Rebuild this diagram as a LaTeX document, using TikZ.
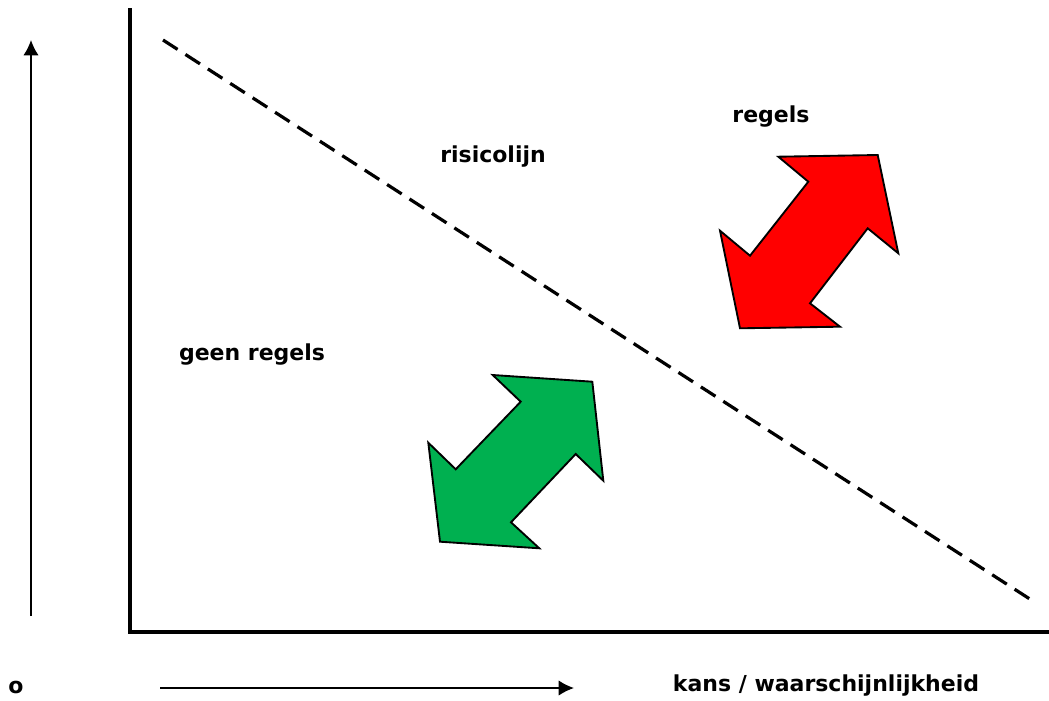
\documentclass[tikz,border=0pt]{standalone}
\usepackage{fontspec}
\setmainfont{DejaVu Sans}
\usepackage{tikz}
\usetikzlibrary{arrows.meta}
\usetikzlibrary{positioning}
\tikzstyle{tekst} = [
	font=\bfseries\fontsize{16.5}{18}\selectfont,
	inner sep=0pt
]
\tikzstyle{as} = [line width=3.4pt]
\tikzstyle{schaal} = [line width=1.2pt, -{Latex[length=11.5pt,width=11.5pt]}]
\tikzstyle{risico} = [line width=2.4pt, dash pattern=on 13pt off 7pt]
\tikzstyle{grotepijl} = [draw=black, line width=1.4pt, line join=miter]
\definecolor{rood}{RGB}{255,0,0}
\definecolor{groen}{RGB}{0,176,80}

\begin{document}
\begin{tikzpicture}[x=0.75pt, y=-0.75pt]
	\useasboundingbox (0,0) rectangle (1049,700);
	% assen
	\coordinate (top) at (130,8);
	\coordinate (origin) at (130,632);
	\coordinate (right) at (1049,632);
	\draw[as] (top) -- (origin) -- (right);
	
	% schaalpijlen
	\coordinate (up0) at (31,616);
	\coordinate (up1) at (31,40);
	\draw[schaal] (up0) -- (up1);
	\node[tekst, name=nul] at (16,687) {o};
	\coordinate (right0) at (160,688);
	\coordinate (right1) at (574,688);
	\draw[schaal] (right0) -- (right1);
	\node[tekst, name=kans] at (826,686) {kans / waarschijnlijkheid};
	
	% risicolijn
	\coordinate (lijn0) at (163,40);
	\coordinate (lijn1) at (1036,603);
	\draw[risico] (lijn0) -- (lijn1);
	\node[tekst, name=risicotekst] at (493,157) {risicolijn};
	\node[tekst, name=regels] at (771,117) {regels};
	\node[tekst, name=geen] at (252,355) {geen regels};
	
	% dubbele pijlen
	\filldraw[grotepijl, fill=rood] (778.3,156.7) -- (877.7,155) -- (898.3,253.3) -- (867.7,228.3)
		-- (810,303.3) -- (840,326.7) -- (740,328.3) -- (720,230.7) -- (750,255.7) -- (808.3,181.7) -- cycle;
	\filldraw[grotepijl, fill=groen] (492.7,375) -- (592.3,381.7) -- (603.3,480.7) -- (575.7,454)
		-- (511,522.3) -- (539.3,548.3) -- (440,541.7) -- (428.3,442.7) -- (455.7,469.3) -- (520.7,401.7) -- cycle;
\end{tikzpicture}
\end{document}
